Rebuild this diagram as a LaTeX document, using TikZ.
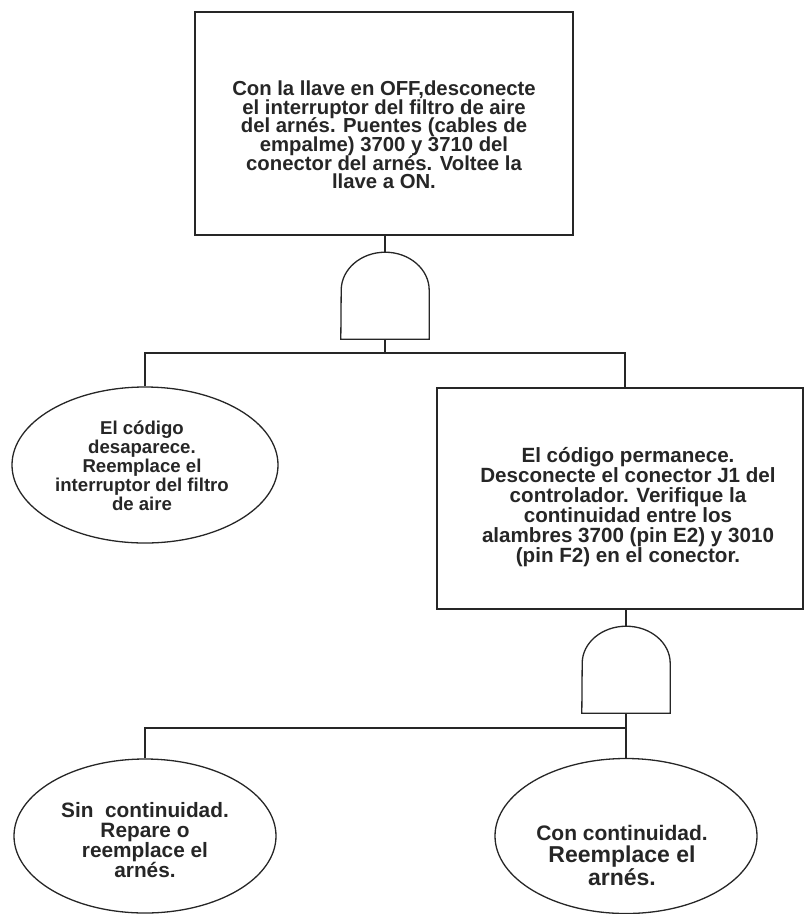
\documentclass[tikz,border=0pt]{standalone}
\usepackage{fontspec}
\setmainfont{Liberation Sans}
\usetikzlibrary{shapes.geometric}
\newcommand\tightlns{\lineskiplimit=-100pt\relax}
\tikzset{
  line/.style={line width=1.3pt, draw=black!85},
  boxnode/.style={line, draw, rectangle, inner sep=0pt},
  ellnode/.style={line, draw, ellipse, inner sep=0pt},
  gatenode/.style={rectangle, inner sep=0pt, minimum width=88pt, minimum height=87pt},
  txt/.style={align=center, inner sep=0pt, text=black!85, font=\bfseries},
}
\begin{document}
\begin{tikzpicture}[x=1pt,y=1pt]
\useasboundingbox (0,0) rectangle (804,-914);
% boxes
\node[boxnode, minimum width=378pt, minimum height=223pt] (b1) at (384,-123.5) {};
\node[txt, font=\bfseries\fontsize{20.3}{18.6}\selectfont\tightlns] (t1) at (384,-135)
  {Con la llave en OFF,desconecte\\el interruptor del filtro de aire\\del arnés. Puentes (cables de\\empalme) 3700 y 3710 del\\conector del arnés. Voltee la\\llave a ON.};
\node[boxnode, minimum width=366pt, minimum height=221pt] (b2) at (620,-498.5) {};
\node[txt, font=\bfseries\fontsize{20.6}{20}\selectfont\tightlns] (t2) at (628,-507)
  {El código permanece.\\Desconecte el conector J1 del\\controlador. Verifique la\\continuidad entre los\\alambres 3700 (pin E2) y 3010\\(pin F2) en el conector.};
% ellipses
\node[ellnode, minimum width=266pt, minimum height=156pt] (e1) at (145,-465) {};
\node[txt, font=\bfseries\fontsize{18.6}{19}\selectfont\tightlns] (t3) at (142,-466)
  {El código\\desaparece.\\Reemplace el\\interruptor del filtro\\de aire};
\node[ellnode, minimum width=262pt, minimum height=154pt] (e2) at (145,-836) {};
\node[txt, font=\bfseries\fontsize{20.8}{20}\selectfont\tightlns] (t4) at (145,-840)
  {Sin\ \ continuidad.\\Repare o\\reemplace el\\arnés.};
\node[ellnode, minimum width=262pt, minimum height=155pt] (e3) at (626,-836) {};
\node[txt, font=\bfseries\fontsize{23}{22.5}\selectfont\tightlns] (t5) at (622,-855)
  {{\fontsize{21}{22.5}\selectfont Con continuidad.}\\Reemplace el\\arnés.};
% gates
\node[gatenode] (g1) at (385,-295.5) {};
\draw[line] (g1.south west) -- (g1.south east) -- ++(0,49) arc[start angle=0, end angle=180, x radius=44, y radius=38] -- cycle;
\node[gatenode] (g2) at (626,-669.5) {};
\draw[line] (g2.south west) -- (g2.south east) -- ++(0,50) arc[start angle=0, end angle=180, x radius=44, y radius=37] -- cycle;
% junctions
\coordinate (j1) at (385,-353);
\coordinate (b1out) at (385,-235);
\coordinate (b2in) at (625,-388);
\coordinate (b2out) at (626,-609);
\coordinate (j2) at (626,-728);
% connectors
\draw[line] (b1out) -- (g1.north);
\draw[line] (g1.south) -- (j1);
\draw[line] (e1.north) |- (j1) -| (b2in);
\draw[line] (b2out) -- (g2.north);
\draw[line] (g2.south) -- (e3.north);
\draw[line] (e2.north) |- (j2);
\end{tikzpicture}
\end{document}
